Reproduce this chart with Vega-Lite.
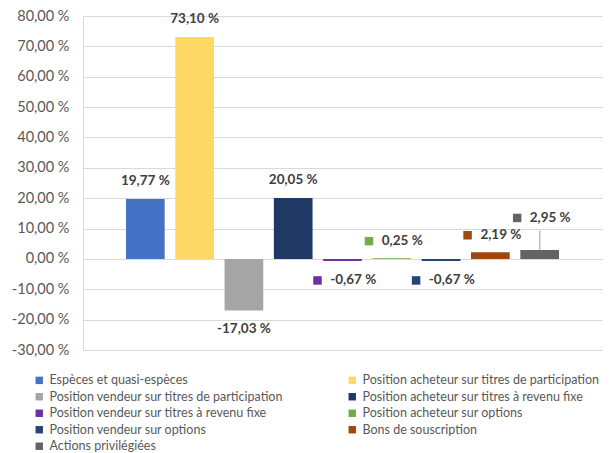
{
  "$schema": "https://vega.github.io/schema/vega-lite/v6.json",
  "width": 519,
  "height": 334,
  "autosize": {"type": "none"},
  "padding": {"left": 83, "top": 16, "right": 8, "bottom": 103},
  "background": "white",
  "data": {
    "values": [
      {"cat": "Espèces et quasi-espèces", "v": 19.77},
      {"cat": "Position acheteur sur titres de participation", "v": 73.10},
      {"cat": "Position vendeur sur titres de participation", "v": -17.03},
      {"cat": "Position acheteur sur titres à revenu fixe", "v": 20.05},
      {"cat": "Position vendeur sur titres à revenu fixe", "v": -0.67},
      {"cat": "Position acheteur sur options", "v": 0.25},
      {"cat": "Position vendeur sur options", "v": -0.67},
      {"cat": "Bons de souscription", "v": 2.19},
      {"cat": "Actions privilégiées", "v": 2.95}
    ]
  },
  "transform": [
    {"calculate": "replace(replace(format(datum.v, '.2f'), '.', ','), '−', '-') + ' %'", "as": "lbl"}
  ],
  "encoding": {
    "x": {
      "field": "cat", "type": "nominal", "sort": null, "axis": null,
      "scale": {"paddingInner": 0.215, "paddingOuter": 0.872}
    },
    "y": {
      "field": "v", "type": "quantitative",
      "scale": {"domain": [-30, 80], "nice": false, "zero": false},
      "axis": {
        "title": null,
        "values": [-30, -20, -10, 0, 10, 20, 30, 40, 50, 60, 70, 80],
        "labelExpr": "replace(replace(format(datum.value, '.2f'), '.', ','), '−', '-') + ' %'",
        "labelFont": "Lato", "labelFontSize": 14.5, "labelColor": "#595959",
        "labelPadding": 14, "ticks": false,
        "domain": true, "domainColor": "#d9d9d9",
        "grid": true, "gridColor": "#d9d9d9", "gridWidth": 1
      }
    },
    "color": {
      "field": "cat", "type": "nominal",
      "scale": {
        "domain": ["Espèces et quasi-espèces", "Position acheteur sur titres de participation", "Position vendeur sur titres de participation", "Position acheteur sur titres à revenu fixe", "Position vendeur sur titres à revenu fixe", "Position acheteur sur options", "Position vendeur sur options", "Bons de souscription", "Actions privilégiées"],
        "range": ["#4472C4", "#FFD966", "#A5A5A5", "#203864", "#7030A0", "#70AD47", "#264478", "#9E480E", "#636363"]
      },
      "legend": {
        "title": null, "orient": "none", "legendX": -50, "legendY": 358,
        "columns": 2, "direction": "horizontal",
        "symbolType": "square", "symbolSize": 55, "symbolStrokeWidth": 0,
        "labelFont": "Lato", "labelFontSize": 12.5, "labelColor": "#595959",
        "labelOffset": 4, "rowPadding": 3.5, "columnPadding": 62, "labelLimit": 400
      }
    }
  },
  "layer": [
    {
      "mark": {"type": "bar"}
    },
    {
      "transform": [{"filter": "datum.v > 2.5 && datum.v < 10"}],
      "mark": {"type": "rule", "strokeWidth": 1.5, "y2Offset": -19.3},
      "encoding": {"y2": {"field": "v"}, "color": {"value": "#bfbfbf"}}
    },
    {
      "transform": [{"filter": "datum.v > 10"}],
      "mark": {"type": "text", "font": "Lato", "fontWeight": "bold", "fontSize": 13.5, "baseline": "middle", "dy": -18},
      "encoding": {"text": {"field": "lbl"}, "color": {"value": "#404040"}}
    },
    {
      "transform": [{"filter": "datum.v < -10"}],
      "mark": {"type": "text", "font": "Lato", "fontWeight": "bold", "fontSize": 13.5, "baseline": "middle", "dy": 18.5},
      "encoding": {"text": {"field": "lbl"}, "color": {"value": "#404040"}}
    },
    {
      "transform": [{"filter": "datum.v < 0 && datum.v > -10"}],
      "mark": {"type": "text", "font": "Lato", "fontWeight": "bold", "fontSize": 13.5, "baseline": "middle", "align": "left", "dx": -12.3, "dy": 19.5},
      "encoding": {"text": {"field": "lbl"}, "color": {"value": "#404040"}}
    },
    {
      "transform": [{"filter": "datum.v < 0 && datum.v > -10"}],
      "mark": {"type": "point", "shape": "square", "filled": true, "opacity": 1, "size": 72, "xOffset": -25, "yOffset": 19.5}
    },
    {
      "transform": [{"filter": "datum.v > 0 && datum.v < 2.5"}],
      "mark": {"type": "text", "font": "Lato", "fontWeight": "bold", "fontSize": 13.5, "baseline": "middle", "align": "left", "dx": -10, "dy": -17},
      "encoding": {"text": {"field": "lbl"}, "color": {"value": "#404040"}}
    },
    {
      "transform": [{"filter": "datum.v > 0 && datum.v < 2.5"}],
      "mark": {"type": "point", "shape": "square", "filled": true, "opacity": 1, "size": 72, "xOffset": -22.8, "yOffset": -17}
    },
    {
      "transform": [{"filter": "datum.v > 2.5 && datum.v < 10"}],
      "mark": {"type": "text", "font": "Lato", "fontWeight": "bold", "fontSize": 13.5, "baseline": "middle", "align": "left", "dx": -10, "dy": -32},
      "encoding": {"text": {"field": "lbl"}, "color": {"value": "#404040"}}
    },
    {
      "transform": [{"filter": "datum.v > 2.5 && datum.v < 10"}],
      "mark": {"type": "point", "shape": "square", "filled": true, "opacity": 1, "size": 72, "xOffset": -22.5, "yOffset": -32}
    }
  ],
  "config": {"view": {"stroke": null}}
}
